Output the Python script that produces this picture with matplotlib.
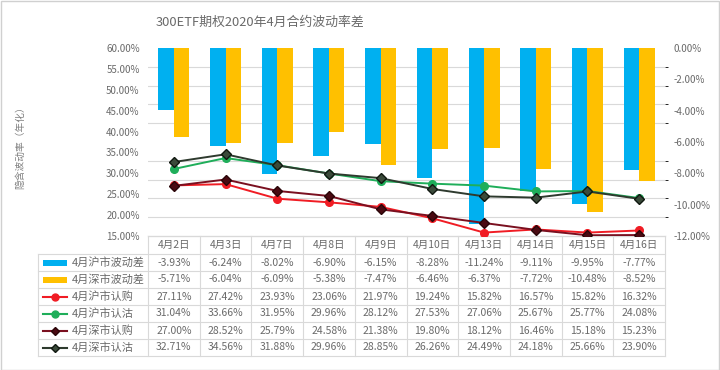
import matplotlib
matplotlib.use("Agg")
import matplotlib.pyplot as plt
from matplotlib.transforms import blended_transform_factory
from matplotlib.patches import Rectangle

plt.rcParams['font.family'] = ['Noto Sans CJK SC', 'DejaVu Sans']

dates = ['4月2日', '4月3日', '4月7日', '4月8日', '4月9日', '4月10日', '4月13日', '4月14日', '4月15日', '4月16日']
sh_diff = [-3.93, -6.24, -8.02, -6.90, -6.15, -8.28, -11.24, -9.11, -9.95, -7.77]
sz_diff = [-5.71, -6.04, -6.09, -5.38, -7.47, -6.46, -6.37, -7.72, -10.48, -8.52]
sh_call = [27.11, 27.42, 23.93, 23.06, 21.97, 19.24, 15.82, 16.57, 15.82, 16.32]
sh_put = [31.04, 33.66, 31.95, 29.96, 28.12, 27.53, 27.06, 25.67, 25.77, 24.08]
sz_call = [27.00, 28.52, 25.79, 24.58, 21.38, 19.80, 18.12, 16.46, 15.18, 15.23]
sz_put = [32.71, 34.56, 31.88, 29.96, 28.85, 26.26, 24.49, 24.18, 25.66, 23.90]

names = ['4月沪市波动差', '4月深市波动差', '4月沪市认购', '4月沪市认沽', '4月深市认购', '4月深市认沽']
title = '300ETF期权2020年4月合约波动率差'
ylabel = '隐含波动率（年化）'

W, H = 720, 370
BLUE, GOLD = '#00B0F0', '#FFC000'
RED, GREEN = '#F01C24', '#1FAE5A'
MAROON, DARK = '#7A1020', '#2E3A2E'
TXT = '#6A6A6A'
GRID = '#D9D9D9'

fig = plt.figure(figsize=(7.2, 3.7), dpi=100)
fig.patch.set_facecolor('white')
fig.add_artist(Rectangle((0.001, 0.001), 0.997, 0.997, transform=fig.transFigure,
                         fill=False, edgecolor='#D0D0D0', lw=1))

L, R, T, B = 148, 665, 48, 236
ax = fig.add_axes([L / W, 1 - B / H, (R - L) / W, (B - T) / H])
ax2 = ax.twinx()
ax.set_zorder(2)
ax2.set_zorder(1)
ax.patch.set_visible(False)

x = list(range(len(dates)))
bw = 0.3
ax2.bar([i - bw / 2 for i in x], sh_diff, width=bw, color=BLUE, zorder=3)
ax2.bar([i + bw / 2 for i in x], sz_diff, width=bw, color=GOLD, zorder=3)
ax2.set_ylim(-12, 0)
ax2.set_yticks([0, -2, -4, -6, -8, -10, -12])
ax2.set_yticklabels([f'{v:.2f}%' for v in [0, -2, -4, -6, -8, -10, -12]])
ax2.set_yticks([-12 + 1.2 * k for k in range(11)], minor=True)
ax2.grid(True, which='minor', axis='y', color=GRID, lw=0.8, zorder=0)
ax2.set_axisbelow(True)

ax.plot(x, sh_call, color=RED, lw=1.4, marker='o', ms=5.5, mfc=RED, mec=RED, zorder=4)
ax.plot(x, sh_put, color=GREEN, lw=1.4, marker='o', ms=5.5, mfc=GREEN, mec=GREEN, zorder=4)
ax.plot(x, sz_call, color=MAROON, lw=1.4, marker='D', ms=5.2, mfc='#4A0A12', mec='#2A0508', zorder=5)
ax.plot(x, sz_put, color=DARK, lw=1.4, marker='D', ms=5.2, mfc='#3A4A3A', mec='#101810', zorder=5)
ax.set_ylim(15, 60)
ax.set_yticks([15 + 5 * k for k in range(10)])
ax.set_yticklabels([f'{15 + 5 * k:.2f}%' for k in range(10)])
ax.set_xlim(-0.5, len(dates) - 0.5)
ax.set_xticks([])

for a in (ax, ax2):
    for s in ['left', 'right', 'top']:
        a.spines[s].set_visible(False)
    a.spines['bottom'].set_color(GRID)
    a.tick_params(axis='y', length=0, labelsize=7, colors=TXT, pad=6)

# table
bt = blended_transform_factory(ax.transData, fig.transFigure)
ft = fig.transFigure
def fy(px):
    return 1 - px / H

rows = [236, 254, 271, 288, 305, 322, 339, 356]
legL = 38
legL_fig = legL / W
R_fig = R / W
ax.plot([-0.5, len(dates) - 0.5], [fy(rows[0])] * 2, transform=bt, color=GRID, lw=0.8, clip_on=False)
for yy in rows[1:]:
    ax.plot([legL_fig, R_fig], [fy(yy)] * 2, transform=ft, color=GRID, lw=0.8, clip_on=False)
for k in range(len(dates) + 1):
    ax.plot([k - 0.5, k - 0.5], [fy(rows[0]), fy(rows[-1])], transform=bt, color=GRID, lw=0.8, clip_on=False)
ax.plot([legL_fig, legL_fig], [fy(rows[1]), fy(rows[-1])], transform=ft, color=GRID, lw=0.8, clip_on=False)

for i, d in enumerate(dates):
    ax.text(i, fy((rows[0] + rows[1]) / 2), d, transform=bt, ha='center', va='center',
            fontsize=7.5, color=TXT, clip_on=False)
series = [sh_diff, sz_diff, sh_call, sh_put, sz_call, sz_put]
for r, vals in enumerate(series):
    yc = fy((rows[r + 1] + rows[r + 2]) / 2)
    for i, v in enumerate(vals):
        ax.text(i, yc, f'{v:.2f}%', transform=bt, ha='center', va='center',
                fontsize=7.5, color=TXT, clip_on=False)
    ax.text(72 / W, yc, names[r], transform=ft, ha='left', va='center',
            fontsize=8, color=TXT, clip_on=False)

k0, k1 = 43 / W, 67 / W
styles = [
    None, None,
    dict(color=RED, marker='o', ms=5, mfc=RED, mec=RED),
    dict(color=GREEN, marker='o', ms=5, mfc=GREEN, mec=GREEN),
    dict(color=MAROON, marker='D', ms=4.5, mfc='#4A0A12', mec='#2A0508'),
    dict(color=DARK, marker='D', ms=4.5, mfc='#3A4A3A', mec='#101810'),
]
for r in range(6):
    ycp = (rows[r + 1] + rows[r + 2]) / 2
    if r < 2:
        col = BLUE if r == 0 else GOLD
        fig.add_artist(Rectangle((k0, fy(ycp + 3)), k1 - k0, 6 / H, transform=ft,
                                 facecolor=col, edgecolor='none'))
    else:
        st = styles[r]
        ax.plot([k0, k1], [fy(ycp)] * 2, transform=ft, color=st['color'], lw=1.5, clip_on=False)
        ax.plot([(k0 + k1) / 2], [fy(ycp)], transform=ft, linestyle='none', marker=st['marker'],
                ms=st['ms'], mfc=st['mfc'], mec=st['mec'], clip_on=False)

fig.text(260 / W, fy(22), title, ha='center', va='center', fontsize=9.3, color=TXT)
fig.text(20 / W, fy(145), ylabel, ha='center', va='center', rotation=90, fontsize=7, color='#7F7F7F')

fig.savefig('out.png', dpi=100, facecolor='white')
